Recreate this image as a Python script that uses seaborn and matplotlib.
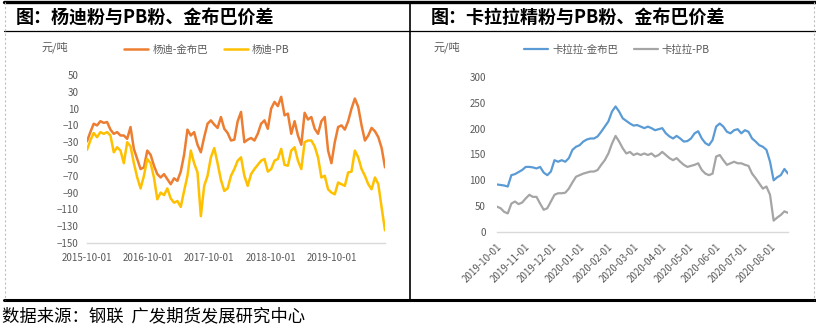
import matplotlib
matplotlib.use('Agg')
import matplotlib.pyplot as plt
from matplotlib.lines import Line2D
import seaborn as sns
import pandas as pd

# ---------------- data ----------------
left_series = ['杨迪-金布巴', '杨迪-PB']
left_colors = ['#ED7D31', '#FFC000']
left_dates = pd.date_range('2015-10-01', periods=90, freq='20D')
yangdi_jinbuba = [-29, -18, -8, -10, -5, -7, -6, -15, -20, -18, -22, -22, -26, -12, -38, -50, -62, -60, -40, -45,
                  -58, -68, -72, -68, -74, -80, -73, -76, -65, -45,
                  -15, -22, -18, -33, -42, -24, -8, -4, -9, -13, 0, -14, -19, -28, -27, -5, 6, -30, -27, -25,
                  -28, -20, -8, -4, -14, 10, 18, 13, 24, 2,
                  4, -20, -5, -22, -33, 5, -3, 0, -14, -20, -5, 0, -40, -55, -30, -12, -10, -15, -5, 10,
                  22, 12, -10, -28, -22, -13, -17, -24, -37, -60]
yangdi_pb = [-39, -28, -19, -24, -18, -20, -18, -22, -42, -36, -40, -55, -30, -35, -55, -72, -85, -70, -50, -55,
             -72, -98, -90, -93, -85, -97, -102, -100, -107, -88,
             -70, -40, -55, -66, -118, -82, -70, -48, -37, -55, -75, -88, -85, -70, -62, -52, -48, -70, -82, -68,
             -62, -57, -52, -50, -65, -62, -52, -50, -38, -57,
             -58, -40, -36, -52, -62, -30, -28, -28, -35, -48, -72, -70, -86, -90, -92, -78, -80, -82, -66, -65,
             -40, -48, -62, -70, -80, -86, -72, -80, -108, -135]
left_ticks = ['2015-10-01', '2016-10-01', '2017-10-01', '2018-10-01', '2019-10-01']

right_series = ['卡拉拉-金布巴', '卡拉拉-PB']
right_colors = ['#5B9BD5', '#A5A5A5']
right_dates = pd.date_range('2019-10-01', periods=82, freq='4D')
kalala_jinbuba = [92, 91, 90, 88, 110, 112, 116, 120, 126, 126, 125, 123, 126, 115, 110, 117, 139, 136, 139, 136,
                  143, 159, 165, 168, 175, 179, 181, 181, 185, 194, 204, 214, 233, 243, 233, 220, 215, 210, 206, 207,
                  204, 201, 204, 201, 197, 199, 201, 191, 185, 181, 186, 181, 175, 176, 181, 191, 195, 181, 172, 168,
                  178, 204, 210, 204, 194, 191, 197, 199, 191, 197, 194, 181, 175, 168, 165, 159, 136, 100, 106, 110,
                  122, 113]
kalala_pb = [49, 46, 39, 36, 55, 59, 54, 57, 65, 72, 68, 68, 55, 43, 46, 59, 72, 75, 75, 76,
             84, 96, 107, 110, 113, 115, 117, 117, 120, 130, 139, 152, 171, 186, 175, 162, 152, 155, 149, 152,
             149, 152, 149, 152, 146, 149, 155, 149, 143, 139, 143, 136, 130, 126, 128, 130, 133, 120, 113, 110,
             113, 146, 149, 139, 130, 133, 136, 133, 133, 130, 128, 113, 104, 94, 84, 88, 72, 22, 28, 33,
             40, 37]
right_ticks = ['2019-10-01', '2019-11-01', '2019-12-01', '2020-01-01', '2020-02-01', '2020-03-01',
               '2020-04-01', '2020-05-01', '2020-06-01', '2020-07-01', '2020-08-01']

title_left = '图：杨迪粉与PB粉、金布巴价差'
title_right = '图：卡拉拉精粉与PB粉、金布巴价差'
unit = '元/吨'
source = '数据来源：钢联  广发期货发展研究中心'

# ---------------- style ----------------
sns.set_theme(style='white')
plt.rcParams['font.family'] = ['Noto Sans CJK SC', 'DejaVu Sans']
TXT = '#595959'
AX = '#D9D9D9'

W, H = 816, 330
fig = plt.figure(figsize=(W / 100, H / 100), dpi=100)
ax1 = fig.add_axes([87 / W, 1 - 243 / H, 298 / W, 168 / H])
ax2 = fig.add_axes([497 / W, 1 - 232 / H, 291 / W, 155 / H])

df_left = pd.concat([
    pd.DataFrame({'date': left_dates, 'value': yangdi_jinbuba, 'series': left_series[0]}),
    pd.DataFrame({'date': left_dates, 'value': yangdi_pb, 'series': left_series[1]}),
])
df_right = pd.concat([
    pd.DataFrame({'date': right_dates, 'value': kalala_jinbuba, 'series': right_series[0]}),
    pd.DataFrame({'date': right_dates, 'value': kalala_pb, 'series': right_series[1]}),
])

sns.lineplot(data=df_left, x='date', y='value', hue='series', hue_order=left_series,
             palette=left_colors, ax=ax1, linewidth=1.8, legend=False)
sns.lineplot(data=df_right, x='date', y='value', hue='series', hue_order=right_series,
             palette=right_colors, ax=ax2, linewidth=1.6, legend=False)

def style_axes(ax):
    for s in ['top', 'right', 'left']:
        ax.spines[s].set_visible(False)
    ax.spines['bottom'].set_color(AX)
    ax.spines['bottom'].set_linewidth(1.0)
    ax.set_xlabel('')
    ax.set_ylabel('')
    ax.grid(False)
    ax.set_facecolor('white')

style_axes(ax1)
style_axes(ax2)

ax1.set_ylim(-150, 50)
ax1.set_yticks(range(-150, 51, 20))
ax1.set_xlim(left_dates[0], left_dates[-1])
ax1.set_xticks(pd.to_datetime(left_ticks))
ax1.set_xticklabels(left_ticks)
ax1.tick_params(axis='y', length=0, pad=6, labelsize=7, labelcolor=TXT)
ax1.tick_params(axis='x', length=3, width=0.8, color=AX, pad=4, labelsize=7, labelcolor=TXT, direction='out')

ax2.set_ylim(0, 300)
ax2.set_yticks(range(0, 301, 50))
ax2.set_xlim(right_dates[0], right_dates[-1])
ax2.set_xticks(pd.to_datetime(right_ticks))
ax2.set_xticklabels(right_ticks, rotation=45, ha='right', rotation_mode='anchor')
ax2.tick_params(axis='y', length=0, pad=8, labelsize=7, labelcolor=TXT)
ax2.tick_params(axis='x', length=3, width=0.8, color=AX, pad=4, labelsize=7, labelcolor=TXT, direction='out')

# legends
for ax, labels, cx in [(ax1, left_series, 207), (ax2, right_series, 617)]:
    handles = ax.get_lines()[:2]
    fig.legend(handles, labels, loc='center', bbox_to_anchor=(cx / W, 1 - 50 / H), ncol=2,
               frameon=False, fontsize=7.5, handlelength=2.3, handletextpad=0.4,
               columnspacing=1.5, labelcolor=TXT)

fig.text(42 / W, 1 - 47 / H, unit, fontsize=8, color=TXT, ha='left', va='center')
fig.text(433 / W, 1 - 47 / H, unit, fontsize=8, color=TXT, ha='left', va='center')

# titles and source
fig.text(16 / W, 1 - 17 / H, title_left, fontsize=13, fontweight='bold', color='black', ha='left', va='center')
fig.text(431 / W, 1 - 17 / H, title_right, fontsize=13, fontweight='bold', color='black', ha='left', va='center')
fig.text(2 / W, 1 - 316 / H, source, fontsize=12.5, color='black', ha='left', va='center')

# frame lines
def fl(x0, y0, x1, y1, **kw):
    fig.add_artist(Line2D([x0 / W, x1 / W], [1 - y0 / H, 1 - y1 / H], transform=fig.transFigure, **kw))

fl(4, 2, 816, 2, color='black', lw=2.4)
fl(4, 31, 816, 31, color='black', lw=0.9)
fl(4, 300, 816, 300, color='black', lw=2.2)
fl(410, 2, 410, 300, color='black', lw=1.2)
fl(5, 2, 5, 300, color='#BFBFBF', lw=0.8, ls=(0, (2, 2)))
fl(814, 2, 814, 300, color='#BFBFBF', lw=0.8, ls=(0, (2, 2)))

fig.savefig('out.png', dpi=100, facecolor='white')
